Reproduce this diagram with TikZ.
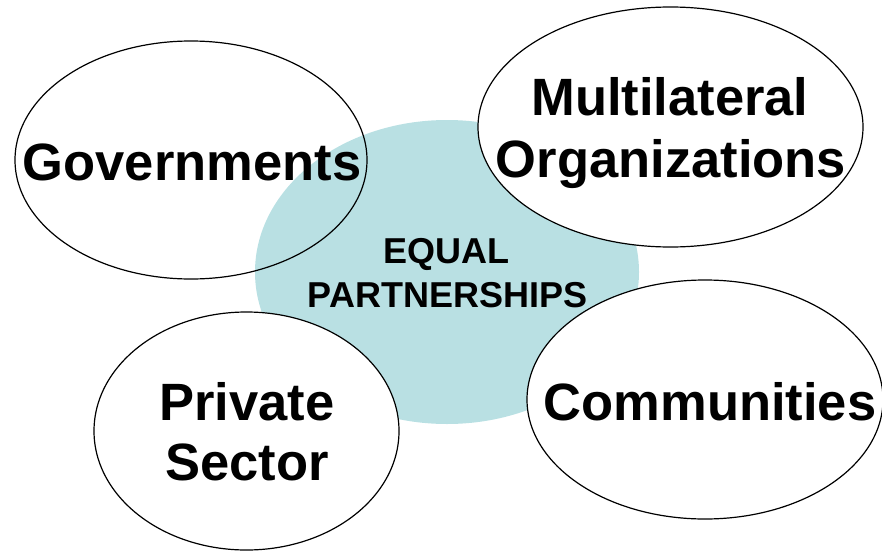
\documentclass[tikz,border=0pt]{standalone}
\usepackage{fontspec}
\setmainfont{Liberation Sans}
\usetikzlibrary{shapes.geometric}
\definecolor{partnerblue}{RGB}{185,224,227}
\begin{document}
\begin{tikzpicture}[x=1pt,y=-1pt,
  party/.style={ellipse, draw=black, line width=1.2pt, inner sep=0pt},
  whiteparty/.style={party, fill=white},
  bigtext/.style={font=\fontsize{52.5}{62}\selectfont\bfseries, anchor=base, inner sep=0pt},
  smalltext/.style={font=\fontsize{36}{44}\selectfont\bfseries, anchor=base, inner sep=0pt}]
\useasboundingbox (0,0) rectangle (882,551);
% central shape
\node[ellipse, fill=partnerblue, minimum width=384pt, minimum height=304pt, inner sep=0pt] (core) at (447,272) {};
% partner ellipses
\node[party, minimum width=352pt, minimum height=238pt] (gov) at (191,160) {};
\node[whiteparty, minimum width=385pt, minimum height=240pt] (multi) at (670.5,127) {};
\node[whiteparty, minimum width=305pt, minimum height=238pt] (priv) at (246.5,431) {};
\node[whiteparty, minimum width=356pt, minimum height=239pt] (comm) at (705,399.5) {};
% labels
\node[smalltext] (eq1) at (446,263) {EQUAL};
\node[smalltext] (eq2) at (447.5,307) {PARTNERSHIPS};
\node[bigtext] (govt) at (192,180) {Governments};
\node[bigtext] (mul1) at (670,115) {Multilateral};
\node[bigtext] (mul2) at (671,177) {Organizations};
\node[bigtext] (pri1) at (247,420) {Private};
\node[bigtext] (pri2) at (247,480) {Sector};
\node[bigtext] (comt) at (710,420) {Communities};
\end{tikzpicture}
\end{document}
